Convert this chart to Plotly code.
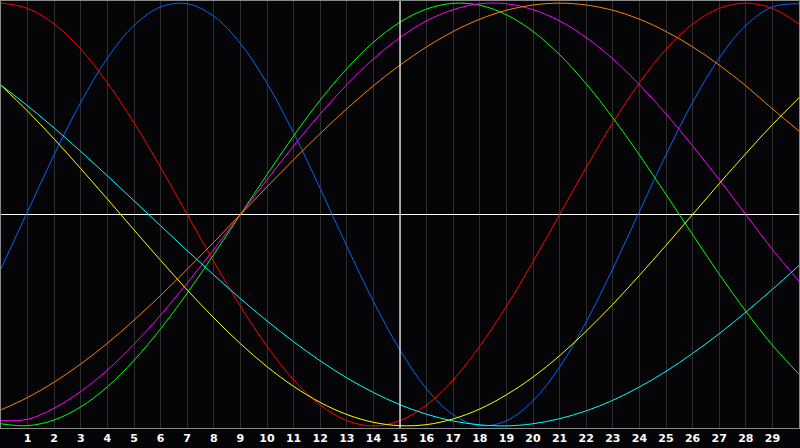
import plotly.graph_objects as go

# biorhythm chart, 30 day window, today marked at day 15
days = list(range(0, 31))
day_labels = [str(d) for d in range(1, 30)]
today = 15

physical = [-0.257, 0.014, 0.283, 0.531, 0.740, 0.894, 0.982, 0.997, 0.938, 0.809,
            0.621, 0.386, 0.123, -0.150, -0.411, -0.641, -0.825, -0.947, -0.999, -0.976,
            -0.881, -0.722, -0.508, -0.257, 0.014, 0.283, 0.531, 0.740, 0.894, 0.982, 0.997]
emotional = [1.00, 0.975, 0.901, 0.782, 0.623, 0.434, 0.223, 0.0, -0.223, -0.434,
             -0.623, -0.782, -0.901, -0.975, -1.00, -0.975, -0.901, -0.782, -0.623, -0.434,
             -0.223, 0.0, 0.223, 0.434, 0.623, 0.782, 0.901, 0.975, 1.00, 0.975, 0.901]
intellectual = [-0.990, -0.999, -0.972, -0.910, -0.815, -0.690, -0.541, -0.372, -0.189, 0.0,
                0.189, 0.372, 0.541, 0.690, 0.815, 0.910, 0.972, 0.999, 0.990, 0.945,
                0.866, 0.756, 0.618, 0.458, 0.282, 0.095, -0.095, -0.282, -0.458, -0.618, -0.756]
intuitive = [-0.975, -0.969, -0.916, -0.837, -0.736, -0.614, -0.476, -0.325, -0.165, 0.0,
             0.165, 0.325, 0.476, 0.614, 0.736, 0.837, 0.916, 0.969, 0.997, 0.997,
             0.969, 0.916, 0.837, 0.736, 0.614, 0.476, 0.325, 0.165, 0.0, -0.165, -0.315]
awareness = [-0.924, -0.866, -0.793, -0.707, -0.609, -0.500, -0.383, -0.259, -0.131, 0.0,
             0.131, 0.259, 0.383, 0.500, 0.609, 0.707, 0.793, 0.866, 0.924, 0.966,
             0.991, 1.000, 0.991, 0.966, 0.924, 0.866, 0.793, 0.707, 0.609, 0.500, 0.395]
aesthetic = [0.611, 0.489, 0.357, 0.217, 0.073, -0.073, -0.217, -0.357, -0.489, -0.611,
             -0.720, -0.813, -0.889, -0.946, -0.983, -0.999, -0.994, -0.967, -0.920, -0.853,
             -0.769, -0.668, -0.552, -0.425, -0.288, -0.146, 0.0, 0.146, 0.288, 0.425, 0.552]
spiritual = [0.612, 0.514, 0.409, 0.298, 0.183, 0.065, -0.053, -0.171, -0.286, -0.398,
             -0.503, -0.602, -0.692, -0.773, -0.842, -0.900, -0.945, -0.977, -0.995, -1.000,
             -0.990, -0.966, -0.929, -0.879, -0.816, -0.742, -0.657, -0.564, -0.462, -0.354, -0.241]

series = [
    ("Physical", physical, "#0066ff"),
    ("Emotional", emotional, "#ff0000"),
    ("Intellectual", intellectual, "#00ff00"),
    ("Intuitive", intuitive, "#ff00ff"),
    ("Awareness", awareness, "#ff8000"),
    ("Aesthetic", aesthetic, "#ffff00"),
    ("Spiritual", spiritual, "#00ffff"),
]

fig = go.Figure()
for name, vals, col in series:
    fig.add_trace(go.Scatter(x=days, y=vals, name=name, mode="lines",
                             line=dict(color=col, width=1, shape="spline")))

fig.add_vline(x=today, line_color="#ffffff", line_width=1.2)

fig.update_layout(
    width=800, height=448,
    margin=dict(l=1, r=1, t=1, b=20),
    paper_bgcolor="#040406",
    plot_bgcolor="#050508",
    showlegend=False,
)
fig.update_xaxes(range=[0, 30], tickvals=list(range(1, 30)), ticktext=day_labels,
                 showgrid=True, gridcolor="#2e2e2e", gridwidth=1, zeroline=False,
                 showline=True, linecolor="#8a8a8a", linewidth=1, mirror=True,
                 ticks="", tickfont=dict(family="DejaVu Sans", size=11, color="#ffffff", weight="bold"))
fig.update_yaxes(range=[-1.01, 1.01], showgrid=False, showticklabels=False,
                 zeroline=True, zerolinecolor="#ffffff", zerolinewidth=1,
                 showline=True, linecolor="#8a8a8a", linewidth=1, mirror=True)

# drop the page's default body margin so the chart sits flush in the window
fig.write_html("out.html", config={"displayModeBar": False},
               post_script="document.body.style.margin='0';document.body.style.background='#040406';")
